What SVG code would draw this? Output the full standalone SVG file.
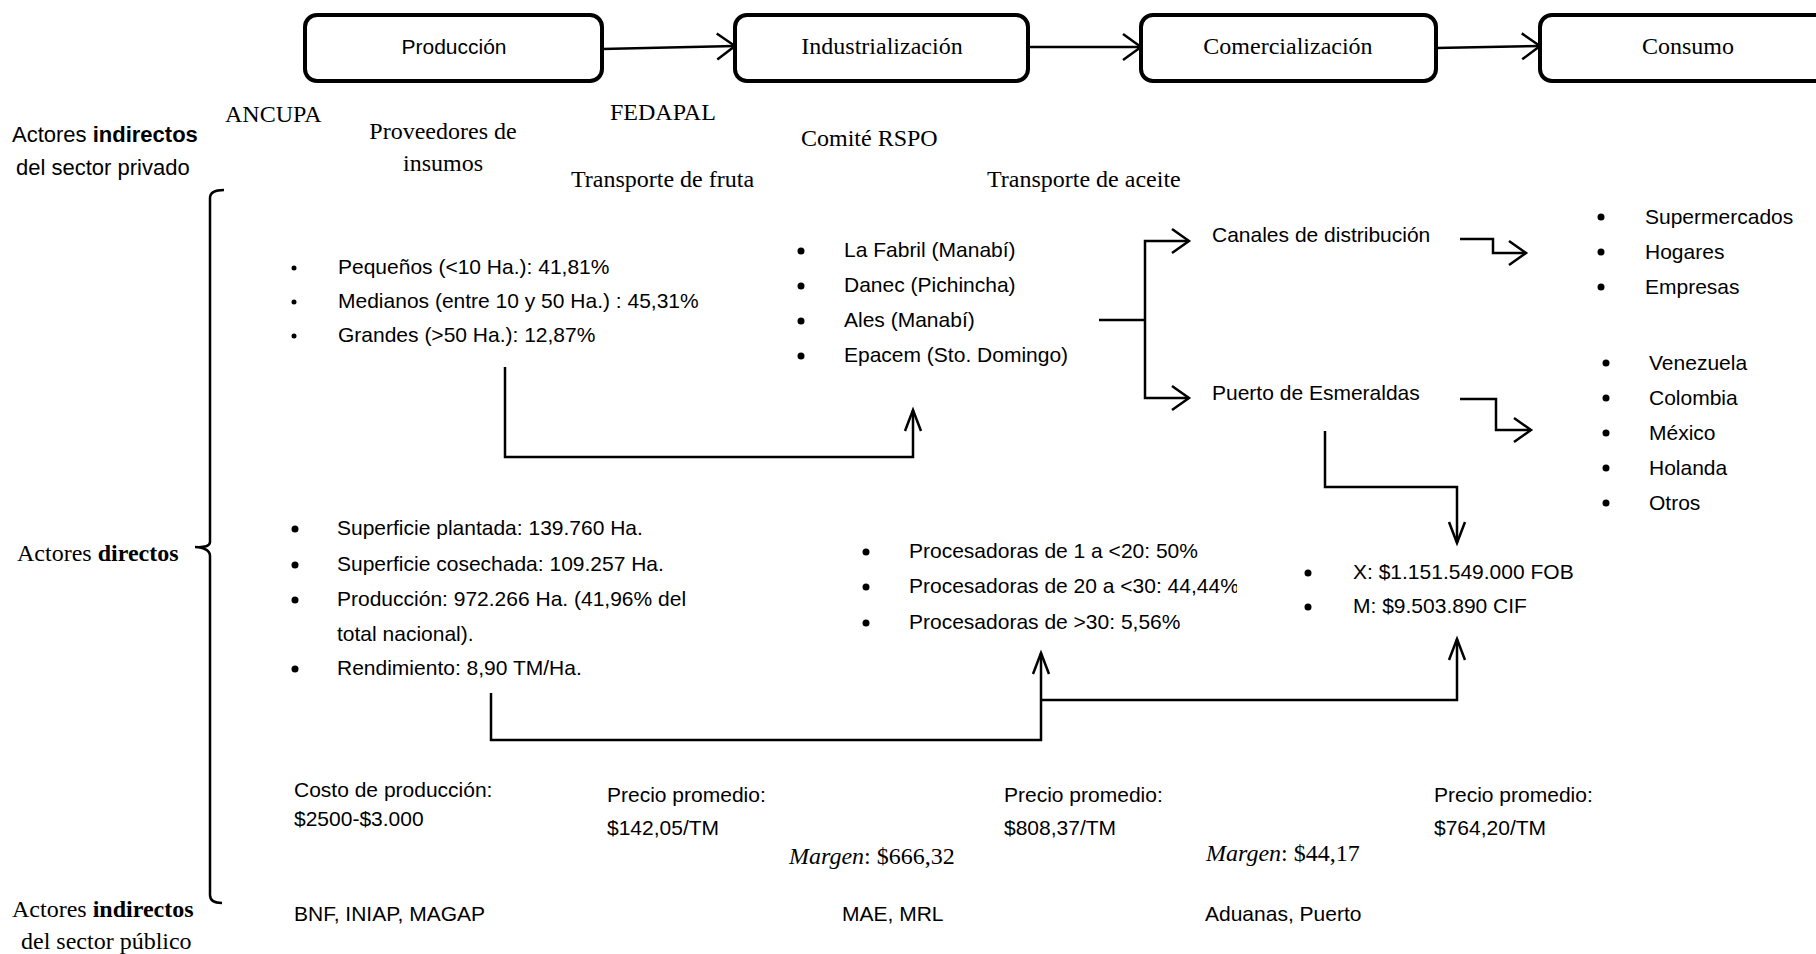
<svg xmlns="http://www.w3.org/2000/svg" width="1816" height="954" viewBox="0 0 1816 954">
<style>
.s{font-family:"Liberation Sans",Arial,sans-serif;font-size:21px;fill:#000}
.t{font-family:"Liberation Serif","Times New Roman",serif;font-size:24px;fill:#000}
.box{fill:#fff;stroke:#000;stroke-width:4}
.c{fill:none;stroke:#000;stroke-width:2.5}
.b{font-weight:bold}
</style>
<defs>
<marker id="ab" markerUnits="userSpaceOnUse" markerWidth="40" markerHeight="40" refX="0" refY="0" viewBox="-20 -20 40 40" orient="auto" overflow="visible"><path d="M-18,-13 L0,0 L-18,13" fill="none" stroke="#000" stroke-width="2.5"/></marker>
<marker id="ah" markerUnits="userSpaceOnUse" markerWidth="40" markerHeight="40" refX="0" refY="0" viewBox="-20 -20 40 40" orient="auto" overflow="visible"><path d="M-17,-12 L0,0 L-17,12" fill="none" stroke="#000" stroke-width="2.5"/></marker>
<marker id="av" markerUnits="userSpaceOnUse" markerWidth="40" markerHeight="40" refX="0" refY="0" viewBox="-20 -20 40 40" orient="auto" overflow="visible"><path d="M-21,-8 L0,0 L-21,8" fill="none" stroke="#000" stroke-width="2.5"/></marker>
<clipPath id="clipP"><rect x="850" y="570" width="387" height="40"/></clipPath>
</defs>

<g id="node-produccion"><rect class="box" x="305" y="15" width="297" height="66" rx="12"/><text class="s" x="454" y="54" text-anchor="middle">Producción</text></g>
<g id="node-industrializacion"><rect class="box" x="735" y="15" width="293" height="66" rx="12"/><text class="t" x="882" y="54" text-anchor="middle">Industrialización</text></g>
<g id="node-comercializacion"><rect class="box" x="1141" y="15" width="295" height="66" rx="12"/><text class="t" x="1288" y="54" text-anchor="middle">Comercialización</text></g>
<g id="node-consumo"><rect class="box" x="1540" y="15" width="300" height="66" rx="12"/><text class="t" x="1688" y="54" text-anchor="middle">Consumo</text></g>

<g id="connectors">
<path class="c" d="M602,49 L735,46" marker-end="url(#ab)"/>
<path class="c" d="M1028,47 L1141,47" marker-end="url(#ab)"/>
<path class="c" d="M1436,48 L1540,46" marker-end="url(#ab)"/>
<path class="c" d="M505,367 V457 H913 V410" marker-end="url(#av)"/>
<path class="c" d="M1099,320 H1145"/>
<path class="c" d="M1145,320 V241 H1189" marker-end="url(#ah)"/>
<path class="c" d="M1145,320 V398 H1189" marker-end="url(#ah)"/>
<path class="c" d="M1460,239 H1493 V253 H1526" marker-end="url(#ah)"/>
<path class="c" d="M1460,399 H1496 V430 H1531" marker-end="url(#ah)"/>
<path class="c" d="M1325,431 V487 H1457 V543" marker-end="url(#av)"/>
<path class="c" d="M491,693 V740 H1041 V653" marker-end="url(#av)"/>
<path class="c" d="M1041,700 H1457 V639" marker-end="url(#av)"/>
<path class="c" d="M224,190 Q210,190 210,198 V542 Q210,548 195,547 M195,547 Q210,548 210,556 V895 Q210,903 222,903" stroke-width="2"/>
</g>

<g id="labels-left">
<text class="s" x="12" y="142" style="font-size:22px">Actores <tspan class="b">indirectos</tspan></text>
<text class="s" x="16" y="175" style="font-size:22px">del sector privado</text>
<text class="t" x="17" y="561">Actores <tspan class="b">directos</tspan></text>
<text class="t" x="12" y="917">Actores <tspan class="b">indirectos</tspan></text>
<text class="t" x="21" y="949">del sector público</text>
</g>

<g id="indirect-private">
<text class="t" x="225" y="122">ANCUPA</text>
<text class="t" x="443" y="139" text-anchor="middle">Proveedores de</text>
<text class="t" x="443" y="171" text-anchor="middle">insumos</text>
<text class="t" x="610" y="120">FEDAPAL</text>
<text class="t" x="801" y="146">Comité RSPO</text>
<text class="t" x="571" y="187">Transporte de fruta</text>
<text class="t" x="987" y="187">Transporte de aceite</text>
</g>

<g id="node-productores">
<circle cx="294" cy="268" r="2.5"/><text class="s" x="338" y="274">Pequeños (&lt;10 Ha.): 41,81%</text>
<circle cx="294" cy="302" r="2.5"/><text class="s" x="338" y="308">Medianos (entre 10 y 50 Ha.) : 45,31%</text>
<circle cx="294" cy="336" r="2.5"/><text class="s" x="338" y="342">Grandes (&gt;50 Ha.): 12,87%</text>
</g>

<g id="node-industrias">
<circle cx="801" cy="251" r="3.5"/><text class="s" x="844" y="257">La Fabril (Manabí)</text>
<circle cx="801" cy="286" r="3.5"/><text class="s" x="844" y="292">Danec (Pichincha)</text>
<circle cx="801" cy="321" r="3.5"/><text class="s" x="844" y="327">Ales (Manabí)</text>
<circle cx="801" cy="356" r="3.5"/><text class="s" x="844" y="362">Epacem (Sto. Domingo)</text>
</g>

<g id="node-canales"><text class="s" x="1212" y="242">Canales de distribución</text></g>
<g id="node-puerto"><text class="s" x="1212" y="400">Puerto de Esmeraldas</text></g>

<g id="node-consumidores">
<circle cx="1601" cy="217" r="3.5"/><text class="s" x="1645" y="224">Supermercados</text>
<circle cx="1601" cy="252" r="3.5"/><text class="s" x="1645" y="259">Hogares</text>
<circle cx="1601" cy="287" r="3.5"/><text class="s" x="1645" y="294">Empresas</text>
</g>

<g id="node-destinos">
<circle cx="1606" cy="363" r="3.5"/><text class="s" x="1649" y="370">Venezuela</text>
<circle cx="1606" cy="398" r="3.5"/><text class="s" x="1649" y="405">Colombia</text>
<circle cx="1606" cy="433" r="3.5"/><text class="s" x="1649" y="440">México</text>
<circle cx="1606" cy="468" r="3.5"/><text class="s" x="1649" y="475">Holanda</text>
<circle cx="1606" cy="503" r="3.5"/><text class="s" x="1649" y="510">Otros</text>
</g>

<g id="node-superficie">
<circle cx="295" cy="529" r="3.5"/><text class="s" x="337" y="535">Superficie plantada: 139.760 Ha.</text>
<circle cx="295" cy="565" r="3.5"/><text class="s" x="337" y="571">Superficie cosechada: 109.257 Ha.</text>
<circle cx="295" cy="600" r="3.5"/><text class="s" x="337" y="606">Producción: 972.266 Ha. (41,96% del</text>
<text class="s" x="337" y="641">total nacional).</text>
<circle cx="295" cy="669" r="3.5"/><text class="s" x="337" y="675">Rendimiento: 8,90 TM/Ha.</text>
</g>

<g id="node-procesadoras">
<circle cx="866" cy="552" r="3.5"/><text class="s" x="909" y="558">Procesadoras de 1 a &lt;20: 50%</text>
<circle cx="866" cy="587" r="3.5"/><text class="s" x="909" y="593" clip-path="url(#clipP)">Procesadoras de 20 a &lt;30: 44,44%</text>
<circle cx="866" cy="623" r="3.5"/><text class="s" x="909" y="629">Procesadoras de &gt;30: 5,56%</text>
</g>

<g id="node-comercio">
<circle cx="1308" cy="573" r="3.5"/><text class="s" x="1353" y="579">X: $1.151.549.000 FOB</text>
<circle cx="1308" cy="607" r="3.5"/><text class="s" x="1353" y="613">M: $9.503.890 CIF</text>
</g>

<g id="prices">
<text class="s" x="294" y="797">Costo de producción:</text>
<text class="s" x="294" y="826">$2500-$3.000</text>
<text class="s" x="607" y="802">Precio promedio:</text>
<text class="s" x="607" y="835">$142,05/TM</text>
<text class="s" x="1004" y="802">Precio promedio:</text>
<text class="s" x="1004" y="835">$808,37/TM</text>
<text class="s" x="1434" y="802">Precio promedio:</text>
<text class="s" x="1434" y="835">$764,20/TM</text>
<text class="t" x="789" y="864"><tspan font-style="italic">Margen</tspan>: $666,32</text>
<text class="t" x="1206" y="861"><tspan font-style="italic">Margen</tspan>: $44,17</text>
</g>

<g id="indirect-public">
<text class="s" x="294" y="921">BNF, INIAP, MAGAP</text>
<text class="s" x="842" y="921">MAE, MRL</text>
<text class="s" x="1205" y="921">Aduanas, Puerto</text>
</g>
</svg>
